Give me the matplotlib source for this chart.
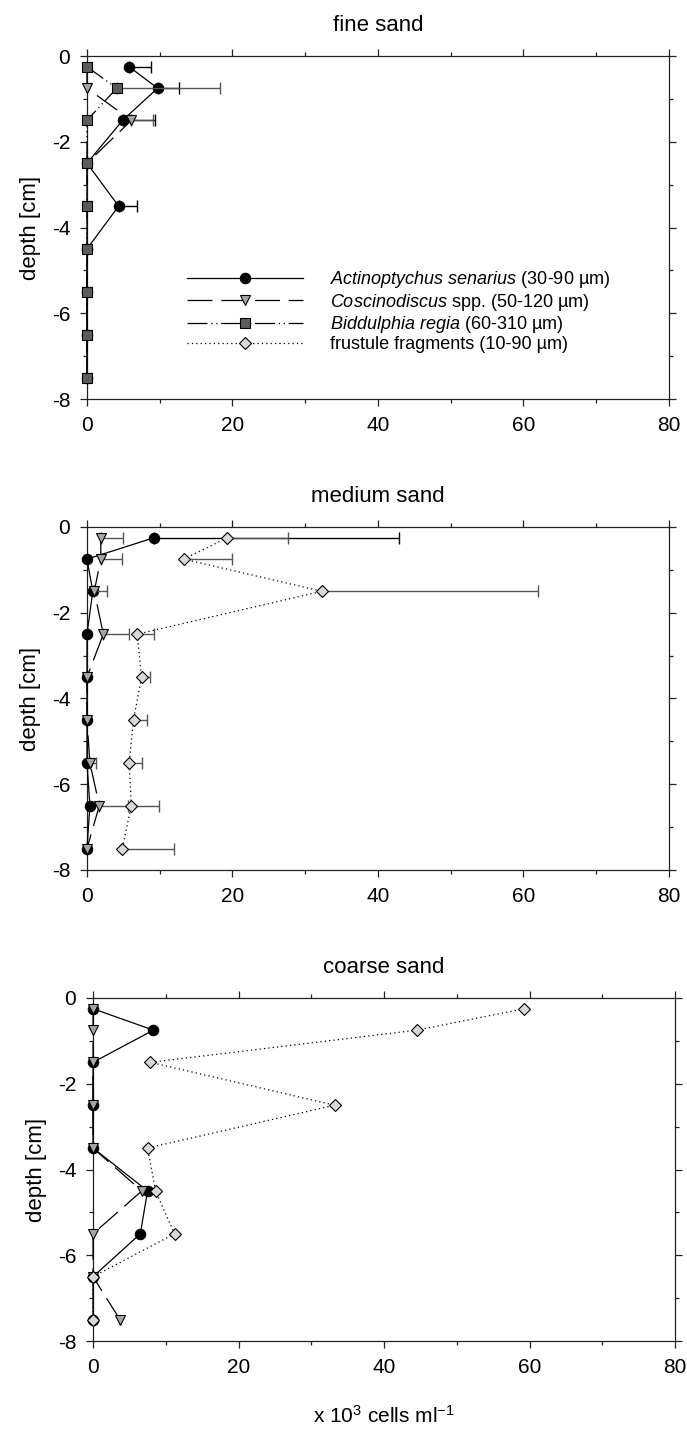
import numpy as np
import matplotlib
matplotlib.use("Agg")
import matplotlib.pyplot as plt
from matplotlib.ticker import MultipleLocator

plt.rcParams['font.family'] = ['Liberation Sans', 'DejaVu Sans']
plt.rcParams['mathtext.fontset'] = 'custom'
plt.rcParams['mathtext.rm'] = 'Liberation Sans'
plt.rcParams['mathtext.it'] = 'Liberation Sans:italic'
plt.rcParams['axes.unicode_minus'] = False

# ------------------------------------------------------------
# data: cell counts (x 10^3 cells/ml) per depth layer
# ------------------------------------------------------------
depth = [-0.25, -0.75, -1.5, -2.5, -3.5, -4.5, -5.5, -6.5, -7.5]

# fine sand
fine_actino = [5.8, 9.7, 4.9, 0, 4.35, 0, 0, 0, 0]
fine_actino_up = [8.8, 12.7, 9.3, np.nan, 6.9, np.nan, np.nan, np.nan, np.nan]
fine_cosci = [0, 0, 6.1, 0, 0, 0, 0, 0, 0]
fine_cosci_up = [np.nan, np.nan, 9.1, np.nan, np.nan, np.nan, np.nan, np.nan, np.nan]
fine_bidd = [0, 4.1, 0, 0, 0, 0, 0, 0, 0]
fine_bidd_up = [np.nan, 18.3, np.nan, np.nan, np.nan, np.nan, np.nan, np.nan, np.nan]

# medium sand
med_actino = [9.25, 0, 0.8, 0, 0, 0, 0, 0.4, 0]
med_actino_up = [42.9, np.nan, np.nan, np.nan, np.nan, np.nan, np.nan, np.nan, np.nan]
med_cosci = [1.9, 1.9, 1.0, 2.25, 0, 0, 0.4, 1.7, 0]
med_cosci_up = [5.0, 4.85, 2.7, 5.8, np.nan, np.nan, 1.2, 5.6, np.nan]
med_frag = [19.3, 13.3, 32.3, 6.9, 7.5, 6.4, 5.8, 6.1, 4.85]
med_frag_up = [27.6, 19.9, 62.0, 9.2, 8.6, 8.2, 7.6, 9.9, 11.9]

# coarse sand
coarse_actino = [0, 8.3, 0, 0, 0, 7.5, 6.5, 0, 0]
coarse_cosci = [0, 0, 0, 0, 0, 6.7, 0, 0, 3.7]
coarse_frag = [59.3, 44.5, 7.9, 33.2, 7.5, 8.6, 11.2, 0, 0]

titles = ['fine sand', 'medium sand', 'coarse sand']
labels = [r'$\it{Actinoptychus\ senarius}$ (30-90 µm)',
          r'$\it{Coscinodiscus}$ spp. (50-120 µm)',
          r'$\it{Biddulphia\ regia}$ (60-310 µm)',
          'frustule fragments (10-90 µm)']

# styles per taxon
styles = {
    'actino': dict(marker='o', mfc='black', ls='-', ecol='black'),
    'cosci': dict(marker='v', mfc='#a6a6a6', ls=(0, (20, 7)), ecol='#555555'),
    'bidd': dict(marker='s', mfc='#5c5c5c', ls=(0, (16, 3, 1, 3, 1, 3)), ecol='#555555'),
    'frag': dict(marker='D', mfc='#d9d9d9', ls=(0, (1, 2.5)), ecol='#555555'),
}
msize = {'o': 7.5, 'v': 7.5, 's': 6.5, 'D': 6.5}


def draw(ax, key, x, up=None, z=2, label=None):
    st = styles[key]
    x = np.array(x, dtype=float)
    if up is not None:
        up = np.array(up, dtype=float)
        right = np.where(np.isnan(up), 0, up - x)
        keep = ~np.isnan(up)
        eb = ax.errorbar(x[keep], np.array(depth)[keep],
                         xerr=[np.zeros(keep.sum()), right[keep]],
                         fmt='none', ecolor=st['ecol'], elinewidth=1,
                         capsize=4, capthick=1, zorder=z - 0.5)
        for art in eb.lines[1] + eb.lines[2]:
            art.set_clip_on(False)
    ln, = ax.plot(x, depth, color='black', lw=0.9, ls=st['ls'],
                  marker=st['marker'], ms=msize[st['marker']],
                  mfc=st['mfc'], mec='black', mew=0.8, zorder=z,
                  label=label, clip_on=False)
    return ln


fig = plt.figure(figsize=(6.87, 14.37), dpi=100)
boxes = [[0.1266, 0.7223, 0.8472, 0.2387],
         [0.1266, 0.3946, 0.8472, 0.2387],
         [0.1354, 0.0668, 0.8472, 0.2387]]
axes = [fig.add_axes(b) for b in boxes]

ax = axes[0]
h1 = draw(ax, 'actino', fine_actino, fine_actino_up, z=3, label=labels[0])
h2 = draw(ax, 'cosci', fine_cosci, fine_cosci_up, z=4, label=labels[1])
h3 = draw(ax, 'bidd', fine_bidd, fine_bidd_up, z=5, label=labels[2])
h4, = ax.plot([], [], color='black', lw=0.9, ls=styles['frag']['ls'],
              marker='D', ms=6.5, mfc='#d9d9d9', mec='black', mew=0.8,
              label=labels[3])
ax.legend(handles=[h1, h2, h3, h4], loc='center left',
          bbox_to_anchor=(0.172, 0.256), frameon=False, fontsize=13,
          handlelength=6.4, handletextpad=1.5, labelspacing=0.08,
          borderpad=0, borderaxespad=0)

ax = axes[1]
draw(ax, 'actino', med_actino, med_actino_up, z=3)
draw(ax, 'cosci', med_cosci, med_cosci_up, z=4)
draw(ax, 'frag', med_frag, med_frag_up, z=6)

ax = axes[2]
draw(ax, 'actino', coarse_actino, z=3)
draw(ax, 'cosci', coarse_cosci, z=4)
draw(ax, 'frag', coarse_frag, z=6)
ax.set_xlabel('x 10$^3$ cells ml$^{-1}$', fontsize=15, labelpad=20)

for ax, t in zip(axes, titles):
    ax.set_xlim(0, 80)
    ax.set_ylim(-8, 0)
    ax.xaxis.set_major_locator(MultipleLocator(20))
    ax.xaxis.set_minor_locator(MultipleLocator(10))
    ax.yaxis.set_major_locator(MultipleLocator(2))
    ax.yaxis.set_minor_locator(MultipleLocator(1))
    ax.tick_params(which='both', direction='out', top=True, right=True,
                   labelsize=15, color='#222222')
    ax.tick_params(which='major', length=5, width=0.9, pad=7)
    ax.tick_params(which='minor', length=3, width=0.9)
    for sp in ax.spines.values():
        sp.set_linewidth(0.9)
        sp.set_color('#222222')
    ax.set_ylabel('depth [cm]', fontsize=16, labelpad=8)
    ax.set_title(t, fontsize=16, pad=18)

plt.savefig('out.png', dpi=100)
